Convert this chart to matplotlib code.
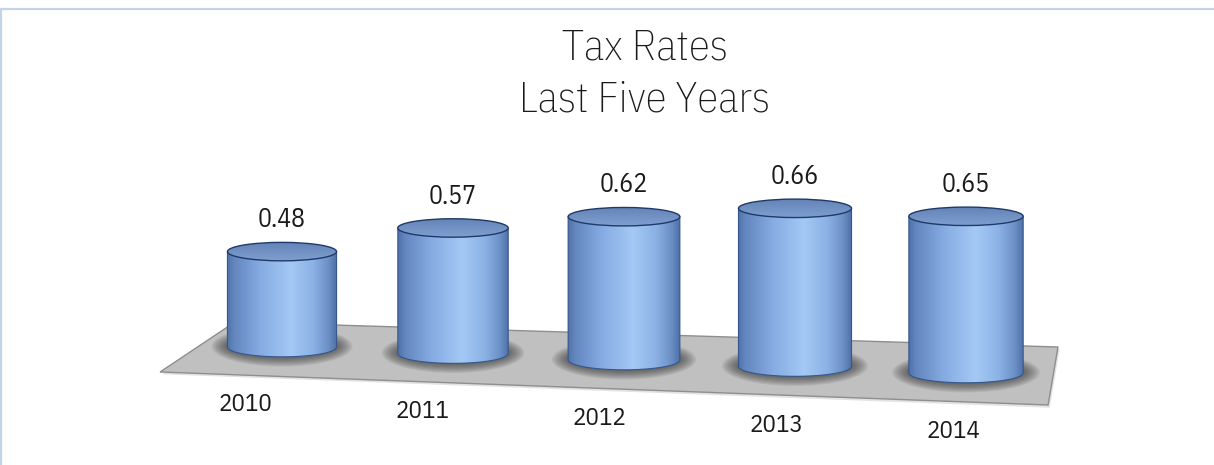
import matplotlib
matplotlib.use("Agg")
import matplotlib.pyplot as plt
import numpy as np
from matplotlib.patches import Ellipse, Polygon, PathPatch
from matplotlib.path import Path
from matplotlib.colors import LinearSegmentedColormap
from matplotlib.lines import Line2D

years = ["2010", "2011", "2012", "2013", "2014"]
rates = [0.48, 0.57, 0.62, 0.66, 0.65]
value_labels = ["0.48", "0.57", "0.62", "0.66", "0.65"]

NUM_FONT = ["IBM Plex Sans Condensed", "Liberation Sans Narrow", "DejaVu Sans"]

# hidden value axis starts here (bars are drawn from this level)
axis_min = 0.18
# fake perspective: floor drops and bars grow a little towards the right
floor_drop = 0.0204
grow = 0.012
half_w = 0.319
top_ry = 0.029
bot_ry = 0.031

body_cmap = LinearSegmentedColormap.from_list("body", [
    (0.00, "#4f72a8"), (0.06, "#6286bd"), (0.30, "#85abe2"),
    (0.58, "#a4c9f5"), (0.78, "#8cb2e6"), (0.92, "#6d91c7"), (1.00, "#4d70a6")])
cap_cmap = LinearSegmentedColormap.from_list("cap", ["#6483b6", "#7f9fd1"])

fig = plt.figure(figsize=(12.14, 4.65), dpi=100)
ax = fig.add_axes([0, 0, 1, 1])

# floor
floor = Polygon([(-0.713, 0.1014), (-0.275, 0.2586), (4.538, 0.18), (4.480, -0.0024)],
                closed=True, facecolor="#c0c0c0", edgecolor="#8e8e8e", lw=1.0, zorder=1)
floor_shadow = Polygon([(-0.70, 0.094), (-0.265, 0.252), (4.548, 0.173), (4.49, -0.011)],
                       closed=True, facecolor="#e2e2e2", edgecolor="none", zorder=0.5)
ax.add_patch(floor_shadow)
ax.add_patch(floor)

grad = np.linspace(0, 1, 256).reshape(1, -1)
for i, v in enumerate(rates):
    p = 1 + grow * i
    hw = half_w * p
    base = axis_min - floor_drop * i
    top = base + (v - axis_min) * p

    # soft shadow on the floor
    for k in range(9):
        f = k / 8
        ax.add_patch(Ellipse((i, base + 0.002), 2 * hw * (1.01 + 0.28 * f),
                             2 * bot_ry * (1.15 + 0.9 * f), facecolor="#2a2a2a",
                             edgecolor="none", alpha=0.09, zorder=2))

    # body outline: left side, front half of base ellipse, right side
    t = np.linspace(np.pi, 2 * np.pi, 60)
    verts = [(i - hw, top), (i - hw, base)]
    verts += list(zip(i + hw * np.cos(t), base + bot_ry * np.sin(t)))
    verts += [(i + hw, top), (i - hw, top)]
    codes = [Path.MOVETO] + [Path.LINETO] * (len(verts) - 2) + [Path.CLOSEPOLY]
    body = PathPatch(Path(verts, codes), facecolor="none", edgecolor="#36578c",
                     lw=0.8, zorder=4)
    ax.add_patch(body)
    im = ax.imshow(grad, cmap=body_cmap, extent=(i - hw, i + hw, base - bot_ry, top),
                   aspect="auto", interpolation="bilinear", zorder=3)
    im.set_clip_path(body)

    cap = Ellipse((i, top), 2 * hw, 2 * top_ry, facecolor="none",
                  edgecolor="#1f3a68", lw=1.0, zorder=6)
    ax.add_patch(cap)
    cim = ax.imshow(np.linspace(0, 1, 64).reshape(-1, 1), cmap=cap_cmap,
                    extent=(i - hw, i + hw, top - top_ry, top + top_ry),
                    origin="upper", aspect="auto", interpolation="bilinear", zorder=5)
    cim.set_clip_path(cap)

    ax.text(i, top + 0.1, value_labels[i], ha="center", va="center",
            fontsize=18.5, family=NUM_FONT, color="#1a1a1a", zorder=7)

    ax.text(i * 1.035 - 0.216, -0.0024 - 0.0212 * i, years[i], ha="center",
            va="center", fontsize=18, family=NUM_FONT, color="#1a1a1a", zorder=7)

ax.set_xlim(-1.6491, 5.4503)
ax.set_ylim(-0.1911, 1.2712)
ax.axis("off")

# title
fig.text(0.531, 1 - 60 / 465, "Tax Rates", ha="center", va="baseline",
         fontsize=31, family=NUM_FONT, fontweight="light", color="#1a1a1a")
fig.text(0.531, 1 - 112 / 465, "Last Five Years", ha="center", va="baseline",
         fontsize=31, family=NUM_FONT, fontweight="light", color="#1a1a1a")

# chart border (top and left edges visible)
fig.add_artist(Line2D([0, 1], [1 - 9.5 / 465] * 2, transform=fig.transFigure,
                      color="#c3d4e9", lw=1.6))
fig.add_artist(Line2D([0.5 / 1214] * 2, [0, 1 - 9.5 / 465], transform=fig.transFigure,
                      color="#c3d4e9", lw=1.6))

fig.savefig("out.png", dpi=100)
